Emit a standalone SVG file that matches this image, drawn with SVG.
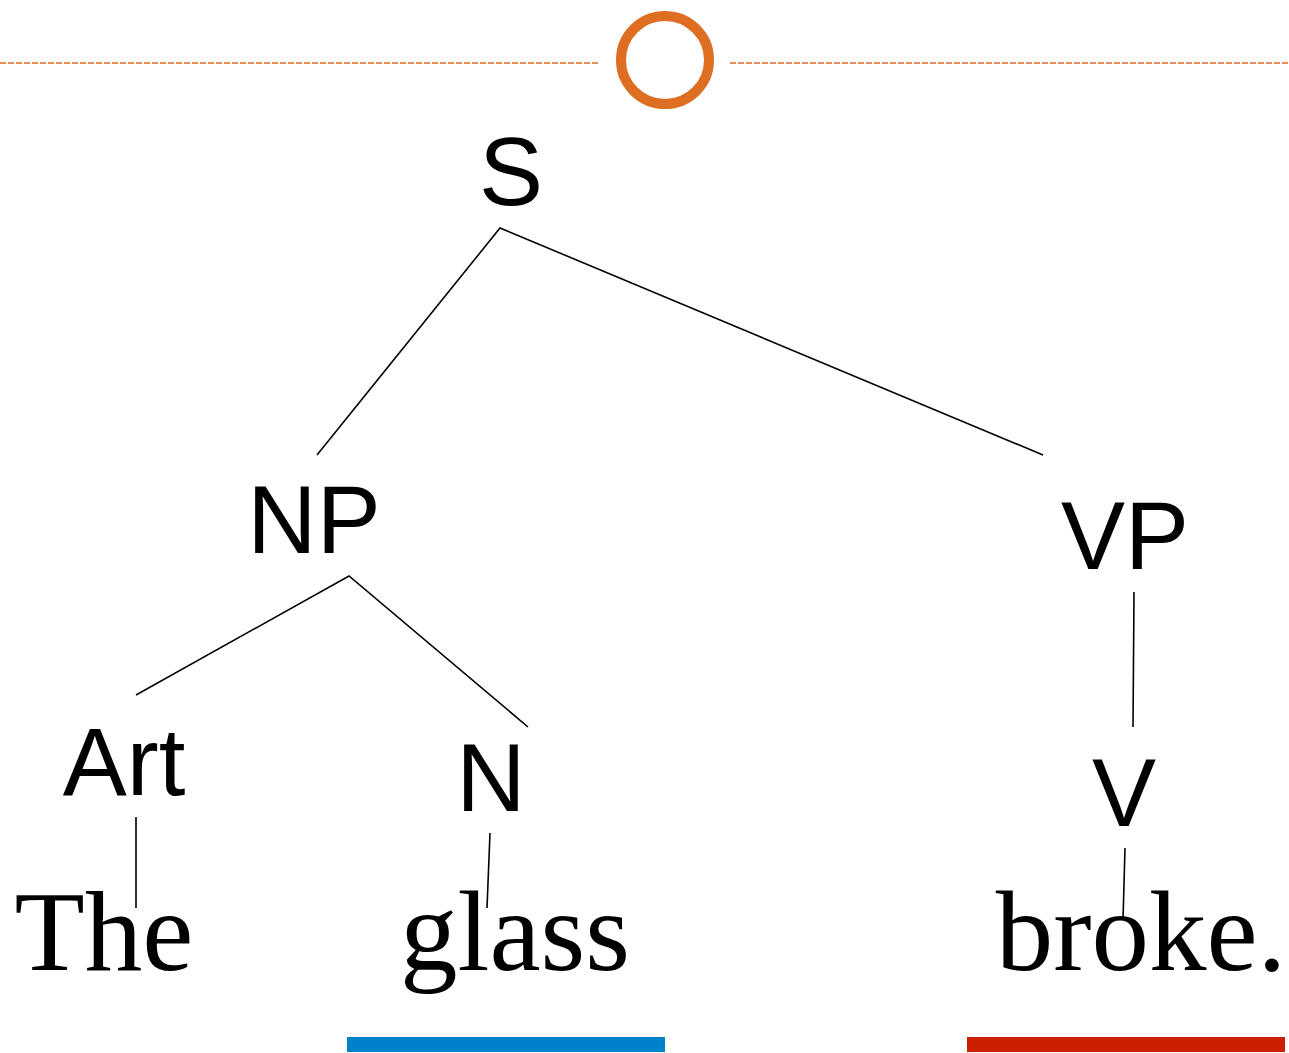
<svg xmlns="http://www.w3.org/2000/svg" width="1289" height="1053" viewBox="0 0 1289 1053">
<style>
.sans{font-family:"Liberation Sans",Arial,sans-serif;font-size:96px;fill:#000;text-anchor:middle}
.serif{font-family:"Liberation Serif","Times New Roman",serif;font-size:115px;fill:#000;text-anchor:middle}
.edge{stroke:#000;stroke-width:1.6;fill:none}
.dash{stroke:#DD6E22;stroke-width:1.5;stroke-dasharray:6 2;fill:none}
</style>
<rect width="1289" height="1053" fill="#fff"/>
<g id="header">
<line class="dash" x1="0" y1="63" x2="598" y2="63"/>
<line class="dash" x1="730" y1="63" x2="1289" y2="63"/>
<circle cx="665" cy="60" r="44" fill="none" stroke="#DD6E22" stroke-width="10"/>
</g>
<g id="connectors">
<polyline class="edge" points="317,455 500,228 1043,455"/>
<polyline class="edge" points="136,695 349,576 528,727"/>
<line class="edge" x1="1134" y1="592" x2="1133" y2="727"/>
<line class="edge" x1="136" y1="817" x2="136" y2="908"/>
<line class="edge" x1="490" y1="833" x2="487" y2="908"/>
<line class="edge" x1="1125" y1="848" x2="1123" y2="920"/>
</g>
<g id="node-S"><text class="sans" x="511" y="205">S</text></g>
<g id="node-NP"><text class="sans" x="314" y="553">NP</text></g>
<g id="node-VP"><text class="sans" x="1125" y="569">VP</text></g>
<g id="node-Art"><text class="sans" x="124" y="795">Art</text></g>
<g id="node-N"><text class="sans" x="491" y="811">N</text></g>
<g id="node-V"><text class="sans" x="1124" y="826">V</text></g>
<g id="word-The"><text class="serif" x="104" y="970">The</text></g>
<g id="word-glass"><text class="serif" x="515" y="970">glass</text></g>
<g id="word-broke"><text class="serif" x="1141" y="970">broke.</text></g>
<g id="underlines">
<rect x="347" y="1037" width="318" height="15" fill="#0082CA"/>
<rect x="967" y="1037" width="318" height="15" fill="#CC1F00"/>
</g>
</svg>
